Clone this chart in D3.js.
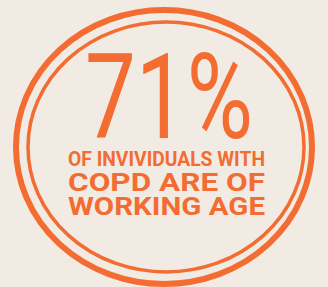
<!DOCTYPE html>
<html>
<head>
<meta charset="utf-8">
<script src="https://cdn.jsdelivr.net/npm/d3@7"></script>
<style>
  html, body { margin: 0; padding: 0; background: #f1ebe4; }
  svg { display: block; }
</style>
</head>
<body>
<div id="vis"></div>
<script>
const FRAME_WIDTH = 328;
const FRAME_HEIGHT = 287;
const ORANGE = "#f36c31";

// the numbers
const statValue = ["71%"];
const captionLines = ["OF INVIVIDUALS WITH", "COPD ARE OF", "WORKING AGE"];
const captionSizes = [19.5, 26.5, 26.5];

const svg = d3.select("#vis")
  .append("svg")
    .attr("width", FRAME_WIDTH)
    .attr("height", FRAME_HEIGHT);

svg.append("rect")
  .attr("width", FRAME_WIDTH)
  .attr("height", FRAME_HEIGHT)
  .attr("fill", "#f1ebe4");

// double ring
svg.append("ellipse")
  .attr("cx", 164).attr("cy", 147)
  .attr("rx", 148).attr("ry", 137)
  .attr("fill", "none")
  .attr("stroke", ORANGE)
  .attr("stroke-width", 6);

svg.append("ellipse")
  .attr("cx", 166).attr("cy", 147)
  .attr("rx", 138).attr("ry", 125)
  .attr("fill", "none")
  .attr("stroke", ORANGE)
  .attr("stroke-width", 3.5);

// big figure
svg.selectAll(".stat")
  .data(statValue)
  .enter()
  .append("text")
    .attr("class", "stat")
    .attr("x", 85)
    .attr("y", 138)
    .attr("font-family", "Roboto, 'Liberation Sans', sans-serif")
    .attr("font-size", 118)
    .attr("fill", ORANGE)
    .attr("textLength", 168)
    .attr("lengthAdjust", "spacingAndGlyphs")
    .text(d => d);

// caption lines
const y = d3.scalePoint()
  .domain(captionLines)
  .range([166, 215]);

svg.selectAll(".caption")
  .data(captionLines)
  .enter()
  .append("text")
    .attr("class", "caption")
    .attr("x", 68)
    .attr("y", d => y(d))
    .attr("font-family", "Roboto, 'Liberation Sans', sans-serif")
    .attr("font-weight", "bold")
    .attr("font-size", (d, i) => captionSizes[i])
    .attr("fill", ORANGE)
    .attr("textLength", 197)
    .attr("lengthAdjust", "spacingAndGlyphs")
    .text(d => d);
</script>
</body>
</html>
